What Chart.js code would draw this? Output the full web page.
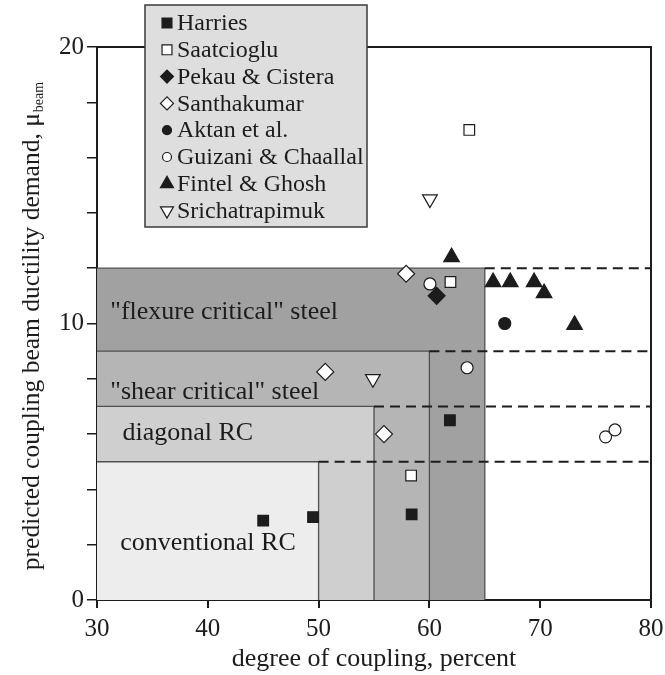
<!DOCTYPE html>
<html><head><meta charset="utf-8">
<script src="https://cdn.jsdelivr.net/npm/chart.js@4/dist/chart.umd.min.js"></script>
<style>html,body{margin:0;padding:0;background:#fff}</style>
</head><body>
<canvas id="c" width="665" height="675"></canvas>
<script>
// ---- data ----
const seriesNames = ['Harries','Saatcioglu','Pekau & Cistera','Santhakumar','Aktan et al.','Guizani & Chaallal','Fintel & Ghosh','Srichatrapimuk'];
const harries      = [[45.0,2.87],[49.5,3.0],[58.4,3.1],[61.85,6.5]];
const saatcioglu   = [[58.35,4.5],[61.9,11.5],[63.6,17.0]];
const pekau        = [[60.65,11.0]];
const santhakumar  = [[50.6,8.25],[55.9,6.0],[57.9,11.8]];
const aktan        = [[66.8,10.0]];
const guizani      = [[60.05,11.43],[63.4,8.4],[75.9,5.9],[76.75,6.15]];
const fintel       = [[62.0,12.4],[65.75,11.5],[67.3,11.5],[69.45,11.5],[70.35,11.1],[73.1,9.95]];
const srichat      = [[60.05,14.5],[54.9,8.0]];
const xTicks = [30,40,50,60,70,80];
const yMajorTicks = [0,5,10,15,20];
// design zones: upper limit of coupling (x) and ductility (y)
const zoneNames = ['"flexure critical" steel','"shear critical" steel','diagonal RC','conventional RC'];
const zoneX = [65,60,55,50];
const zoneY = [12,9,7,5];
const zoneLabelX = [31.2,31.2,32.3,32.1];
const zoneLabelY = [10.42,7.52,6.04,2.06];

const INK = '#1c1c1c';
const FONT = "'Liberation Serif', 'Times New Roman', serif";
const zoneFill = ['#a1a1a1','#b5b5b5','#cfcfcf','#ededed'];

function pts(a){ return a.map(p => ({x:p[0], y:p[1]})); }
const styles = [
  {pointStyle:'rect', fill:INK, r:7.5, rot:0, lr:7},
  {pointStyle:'rect', fill:'#ffffff', r:7.5, rot:0, lr:7},
  {pointStyle:'rectRot', fill:INK, r:8.5, rot:0, lr:6.5},
  {pointStyle:'rectRot', fill:'#ffffff', r:8.5, rot:0, lr:6.5},
  {pointStyle:'circle', fill:INK, r:6, rot:0, lr:4.5},
  {pointStyle:'circle', fill:'#ffffff', r:6, rot:0, lr:4.5},
  {pointStyle:'triangle', fill:INK, r:9, rot:0, lr:7.5},
  {pointStyle:'triangle', fill:'#ffffff', r:8.5, rot:180, lr:7.5}
];
const allData = [harries,saatcioglu,pekau,santhakumar,aktan,guizani,fintel,srichat];
const datasets = allData.map((d,i) => ({
  label: seriesNames[i],
  data: pts(d),
  pointStyle: styles[i].pointStyle,
  pointRadius: styles[i].r,
  pointHoverRadius: styles[i].r,
  pointRotation: styles[i].rot,
  backgroundColor: styles[i].fill,
  borderColor: INK,
  borderWidth: 1.2,
  showLine: false
}));

const zonesPlugin = {
  id:'zones',
  beforeDatasetsDraw(chart){
    const {ctx, scales:{x,y}} = chart;
    const x0 = x.getPixelForValue(x.min), y0 = y.getPixelForValue(0), xR = x.getPixelForValue(x.max);
    ctx.save();
    zoneX.forEach((zx,i) => {
      const px = x.getPixelForValue(zx), py = y.getPixelForValue(zoneY[i]);
      ctx.fillStyle = zoneFill[i];
      ctx.fillRect(x0, py, px-x0, y0-py);
      ctx.strokeStyle = '#505050'; ctx.lineWidth = 1.3; ctx.setLineDash([]);
      ctx.beginPath(); ctx.moveTo(x0,py); ctx.lineTo(px,py); ctx.lineTo(px,y0); ctx.stroke();
    });
    zoneX.forEach((zx,i) => {
      const px = x.getPixelForValue(zx), py = y.getPixelForValue(zoneY[i]);
      ctx.strokeStyle = INK; ctx.lineWidth = 2; ctx.setLineDash([10,6]);
      ctx.beginPath(); ctx.moveTo(px,py); ctx.lineTo(xR,py); ctx.stroke();
    });
    ctx.setLineDash([]);
    ctx.fillStyle = INK; ctx.font = '26px ' + FONT; ctx.textBaseline = 'middle'; ctx.textAlign = 'left';
    zoneNames.forEach((t,i) => ctx.fillText(t, x.getPixelForValue(zoneLabelX[i]), y.getPixelForValue(zoneLabelY[i])));
    ctx.restore();
  },
  afterDatasetsDraw(chart){
    const {ctx, chartArea:a} = chart;
    ctx.save(); ctx.strokeStyle = INK; ctx.lineWidth = 2;
    ctx.beginPath(); ctx.moveTo(a.left, a.top); ctx.lineTo(a.right, a.top); ctx.lineTo(a.right, a.bottom); ctx.stroke();
    ctx.restore();
  },
  afterDraw(chart){
    const {ctx, chartArea:a} = chart;
    // y axis title with subscript
    ctx.save();
    ctx.translate(31, (a.top + a.bottom)/2 + 3);
    ctx.rotate(-Math.PI/2);
    ctx.fillStyle = INK; ctx.textBaseline = 'alphabetic';
    const main = 'predicted coupling beam ductility demand, \u03bc';
    const sub = 'beam';
    ctx.font = '25.5px ' + FONT; const w1 = ctx.measureText(main).width;
    ctx.font = '14px ' + FONT; const w2 = ctx.measureText(sub).width;
    const start = -(w1+w2)/2;
    ctx.font = '25.5px ' + FONT; ctx.textAlign = 'left';
    ctx.fillText(main, start, 8);
    ctx.font = '14px ' + FONT;
    ctx.fillText(sub, start + w1 + 1, 12);
    ctx.restore();
    // legend box
    const bx = 145, by = 5, bw = 222, bh = 222;
    ctx.save();
    ctx.fillStyle = '#dedede'; ctx.fillRect(bx, by, bw, bh);
    ctx.strokeStyle = '#3a3a3a'; ctx.lineWidth = 1.5; ctx.strokeRect(bx, by, bw, bh);
    ctx.font = '24px ' + FONT; ctx.textBaseline = 'middle'; ctx.textAlign = 'left';
    chart.data.datasets.forEach((ds,i) => {
      const yy = 23 + i*26.8;
      ctx.fillStyle = ds.backgroundColor; ctx.strokeStyle = INK; ctx.lineWidth = 1.2;
      Chart.helpers.drawPoint(ctx, {pointStyle: ds.pointStyle, rotation: ds.pointRotation, radius: styles[i].lr, borderWidth: 1.2}, 167, yy);
      ctx.fillStyle = INK;
      ctx.fillText(ds.label, 177, yy + 1);
    });
    ctx.restore();
  }
};

new Chart(document.getElementById('c'), {
  type: 'scatter',
  data: { datasets },
  plugins: [zonesPlugin],
  options: {
    responsive: false,
    animation: false,
    events: [],
    layout: { padding: { top: 47, right: 14, left: 0, bottom: 0 } },
    plugins: { legend: { display: false }, tooltip: { enabled: false } },
    scales: {
      x: {
        type: 'linear', min: xTicks[0], max: xTicks[xTicks.length-1],
        afterFit(s){ s.height = 75; s.paddingLeft = 0; s.paddingRight = 0; },
        afterBuildTicks(s){ s.ticks = xTicks.map(v => ({value:v})); },
        grid: { display: true, drawOnChartArea: false, drawTicks: true, tickLength: 8, color: INK, lineWidth: 2 },
        border: { display: true, color: INK, width: 2 },
        ticks: { color: INK, font: { family: FONT, size: 25 }, padding: 6, maxRotation: 0 },
        title: { display: true, text: 'degree of coupling, percent', color: INK, font: { family: FONT, size: 26 }, padding: { top: 0, bottom: 0 } }
      },
      y: {
        type: 'linear', min: 0, max: 20,
        afterFit(s){ s.width = 97; s.paddingTop = 0; s.paddingBottom = 0; },
        ticks: { stepSize: 1, color: INK, font: { family: FONT, size: 25 }, padding: 3,
                 callback: v => yMajorTicks.includes(v) ? String(v) : '' },
        grid: { display: true, drawOnChartArea: false, drawTicks: true, tickLength: 10, color: INK, lineWidth: 1.5 },
        border: { display: true, color: INK, width: 2 }
      }
    }
  }
});
</script>
</body></html>
